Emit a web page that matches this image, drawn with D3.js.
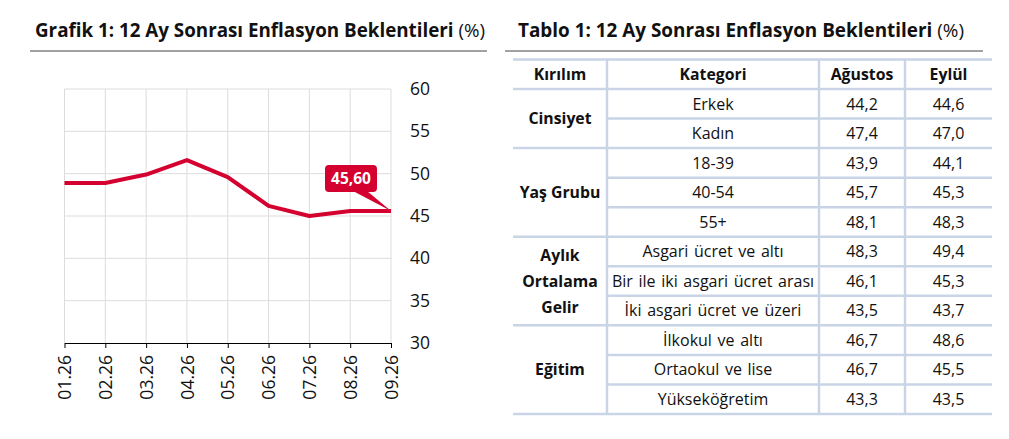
<!DOCTYPE html>
<html>
<head>
<meta charset="utf-8">
<script src="https://cdn.jsdelivr.net/npm/d3@7"></script>
<style>
  body { margin: 0; background: #fff; font-family: "Open Sans", sans-serif; }
  svg text { font-family: "Open Sans", sans-serif; }
</style>
</head>
<body>
<svg id="chart" width="1009" height="439"></svg>
<script>
// chart data
const months = ["01.26", "02.26", "03.26", "04.26", "05.26", "06.26", "07.26", "08.26", "09.26"];
const expectation = [48.9, 48.9, 49.9, 51.6, 49.6, 46.2, 45.0, 45.6, 45.6];
const yTicks = [30, 35, 40, 45, 50, 55, 60];

// table data
const groups = ["Cinsiyet", "Yaş Grubu", "Aylık Ortalama Gelir", "Eğitim"];
const groupSizes = [2, 3, 3, 3];
const categories = ["Erkek", "Kadın", "18-39", "40-54", "55+",
    "Asgari ücret ve altı", "Bir ile iki asgari ücret arası", "İki asgari ücret ve üzeri",
    "İlkokul ve altı", "Ortaokul ve lise", "Yükseköğretim"];
const august = ["44,2", "47,4", "43,9", "45,7", "48,1", "48,3", "46,1", "43,5", "46,7", "46,7", "43,3"];
const september = ["44,6", "47,0", "44,1", "45,3", "48,3", "49,4", "45,3", "43,7", "48,6", "45,5", "43,5"];
const headers = ["Kırılım", "Kategori", "Ağustos", "Eylül"];

const red = "#d4002f";
const svg = d3.select("#chart");

// ---------- titles ----------
function title(x, ruleX1, ruleX2, main, size) {
    const t = svg.append("text").attr("x", x).attr("y", 36.5)
        .style("font-size", size + "px").attr("fill", "#111");
    t.append("tspan").attr("font-weight", "bold").text(main);
    t.append("tspan").attr("font-weight", "normal").text(" (%)");
    svg.append("line").attr("x1", ruleX1).attr("x2", ruleX2)
        .attr("y1", 51).attr("y2", 51).attr("stroke", "#444").attr("stroke-width", 1.2);
}
title(35, 30, 487, "Grafik 1: 12 Ay Sonrası Enflasyon Beklentileri", 18.8);
title(518, 505, 983, "Tablo 1: 12 Ay Sonrası Enflasyon Beklentileri", 18.9);

// ---------- line chart ----------
const x = d3.scalePoint().domain(months).range([64.5, 391]);
const y = d3.scaleLinear().domain([30, 60]).range([343, 89]);

const g = svg.append("g");

g.append("g").selectAll("line").data(yTicks.slice(1)).join("line")
    .attr("x1", x.range()[0]).attr("x2", x.range()[1])
    .attr("y1", d => y(d)).attr("y2", d => y(d))
    .attr("stroke", "#dcdcdc").attr("stroke-width", 1);

g.append("g").selectAll("line").data(months).join("line")
    .attr("x1", d => x(d)).attr("x2", d => x(d))
    .attr("y1", y(60)).attr("y2", y(30))
    .attr("stroke", "#dcdcdc").attr("stroke-width", 1);

const xAxis = g.append("g").attr("transform", `translate(0,${y(30)})`)
    .call(d3.axisBottom(x).tickSize(5).tickSizeOuter(0));
xAxis.select(".domain").attr("stroke", "#000");
xAxis.selectAll(".tick line").attr("stroke", "#000");
xAxis.selectAll("text")
    .attr("transform", "rotate(-90)")
    .attr("x", -12).attr("y", 0).attr("dy", "0.35em")
    .style("text-anchor", "end").style("font-size", "17.5px").attr("fill", "#111");

const yAxis = g.append("g").attr("transform", `translate(${x.range()[1]},0)`)
    .call(d3.axisRight(y).tickValues(yTicks).tickSize(0).tickPadding(19));
yAxis.select(".domain").remove();
yAxis.selectAll("text").style("font-size", "17.5px").attr("fill", "#111");

g.append("path").datum(expectation)
    .attr("fill", "none").attr("stroke", red).attr("stroke-width", 4)
    .attr("stroke-linejoin", "round")
    .attr("d", d3.line().x((d, i) => x(months[i])).y(d => y(d)));

// last value callout
const lastI = expectation.length - 1;
const px = x(months[lastI]), py = y(expectation[lastI]);
const bx = 325, bw = 52, by = 165, bh = 27;
g.append("path")
    .attr("d", `M${bx + 28},${by + bh - 1} L${bx + 42},${by + bh - 1} L${px},${py} Z`)
    .attr("fill", red);
g.append("rect").attr("x", bx).attr("y", by).attr("width", bw).attr("height", bh)
    .attr("rx", 4).attr("fill", red);
g.append("text").attr("x", bx + bw / 2).attr("y", by + bh / 2).attr("dy", "0.36em")
    .attr("text-anchor", "middle").attr("fill", "#fff")
    .style("font-size", "15.5px").attr("font-weight", "bold")
    .text(d3.format(".2f")(expectation[lastI]).replace(".", ","));

// ---------- table ----------
const colEdges = [513, 607, 819, 905, 992];
const headTop = 59.5, headBottom = 89, tableBottom = 414;
const rowY = d3.scaleLinear().domain([0, categories.length]).range([headBottom, tableBottom]);
const lineCol = "#c9d5e6";
const t = svg.append("g");

// header
t.append("line").attr("x1", colEdges[0]).attr("x2", colEdges[4])
    .attr("y1", headTop).attr("y2", headTop).attr("stroke", lineCol).attr("stroke-width", 2.5);
t.selectAll("text.head").data(headers).join("text").attr("class", "head")
    .attr("x", (d, i) => (colEdges[i] + colEdges[i + 1]) / 2)
    .attr("y", (headTop + headBottom) / 2).attr("dy", "0.36em")
    .attr("text-anchor", "middle").attr("font-weight", "bold")
    .style("font-size", "15.8px").attr("fill", "#111").text(d => d);

// row lines: inner lines from column 2, group borders full width
const groupStarts = d3.cumsum([0, ...groupSizes]);
for (let r = 0; r <= categories.length; r++) {
    const full = groupStarts.includes(r);
    t.append("line")
        .attr("x1", full ? colEdges[0] : colEdges[1]).attr("x2", colEdges[4])
        .attr("y1", rowY(r)).attr("y2", rowY(r))
        .attr("stroke", lineCol).attr("stroke-width", 2.5);
}
// vertical dividers
colEdges.slice(1, 4).forEach(cx => {
    t.append("line").attr("x1", cx).attr("x2", cx)
        .attr("y1", headTop).attr("y2", tableBottom)
        .attr("stroke", lineCol).attr("stroke-width", 2.5);
});

// cell values
const cols = [categories, august, september];
cols.forEach((col, ci) => {
    t.append("g").selectAll("text").data(col).join("text")
        .attr("x", (colEdges[ci + 1] + colEdges[ci + 2]) / 2)
        .attr("y", (d, i) => (rowY(i) + rowY(i + 1)) / 2).attr("dy", "0.36em")
        .attr("text-anchor", "middle").style("font-size", "16px")
        .style("word-spacing", "1.5px").attr("fill", "#111")
        .text(d => d);
});

// group labels
groups.forEach((name, gi) => {
    const mid = (rowY(groupStarts[gi]) + rowY(groupStarts[gi + 1])) / 2;
    const words = name === "Aylık Ortalama Gelir" ? name.split(" ") : [name];
    const lh = 26;
    const txt = t.append("text").attr("x", (colEdges[0] + colEdges[1]) / 2)
        .attr("text-anchor", "middle").attr("font-weight", "bold")
        .style("font-size", "15.8px").attr("fill", "#111");
    words.forEach((w, wi) => {
        txt.append("tspan").attr("x", (colEdges[0] + colEdges[1]) / 2)
            .attr("y", mid + (wi - (words.length - 1) / 2) * lh).attr("dy", "0.36em").text(w);
    });
});
</script>
</body>
</html>
